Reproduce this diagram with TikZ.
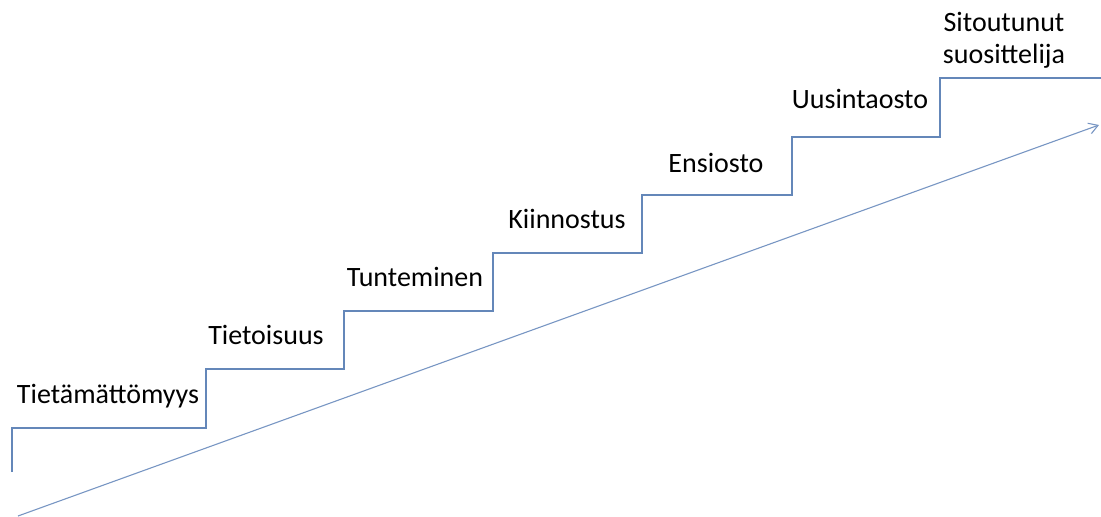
\documentclass[tikz,border=0pt]{standalone}
\usepackage{fontspec}
\setmainfont{Carlito}
\usetikzlibrary{arrows.meta}
\definecolor{stairblue}{RGB}{100,135,185}
\definecolor{arrowblue}{RGB}{120,150,195}
\begin{document}
\begin{tikzpicture}[x=1pt,y=-1pt,
  stairline/.style={draw=stairblue,line width=1.1pt},
  growarrow/.style={draw=arrowblue,line width=1.1pt,-{Straight Barb[length=9pt,width=11pt]}},
  lbl/.style={font=\fontsize{28}{33}\selectfont,inner sep=0pt,anchor=base,text=black,align=center}]
\useasboundingbox (0,0) rectangle (1101,517);
\coordinate (s0) at (12,472);
\coordinate (s1) at (12,428);
\coordinate (s2) at (206,428);
\coordinate (s3) at (206,369);
\coordinate (s4) at (344,369);
\coordinate (s5) at (344,311);
\coordinate (s6) at (493,311);
\coordinate (s7) at (493,253);
\coordinate (s8) at (642,253);
\coordinate (s9) at (642,195);
\coordinate (s10) at (792,195);
\coordinate (s11) at (792,137);
\coordinate (s12) at (940,137);
\coordinate (s13) at (940,78);
\coordinate (s14) at (1101,78);
\draw[stairline] (s0) -- (s1) -- (s2) -- (s3) -- (s4) -- (s5) -- (s6) -- (s7) -- (s8) -- (s9) -- (s10) -- (s11) -- (s12) -- (s13) -- (s14);
\coordinate (a0) at (18,516);
\coordinate (a1) at (1099,125);
\draw[growarrow] (a0) -- (a1);
\node[lbl] (l1) at (108,403) {Tietämättömyys};
\node[lbl] (l2) at (266,344) {Tietoisuus};
\node[lbl] (l3) at (415,286) {Tunteminen};
\node[lbl] (l4) at (567,228) {Kiinnostus};
\node[lbl] (l5) at (716,172) {Ensiosto};
\node[lbl] (l6) at (860,108) {Uusintaosto};
\node[lbl] (l7a) at (1004,31) {Sitoutunut};
\node[lbl] (l7b) at (1004,63) {suosittelija};
\end{tikzpicture}
\end{document}
